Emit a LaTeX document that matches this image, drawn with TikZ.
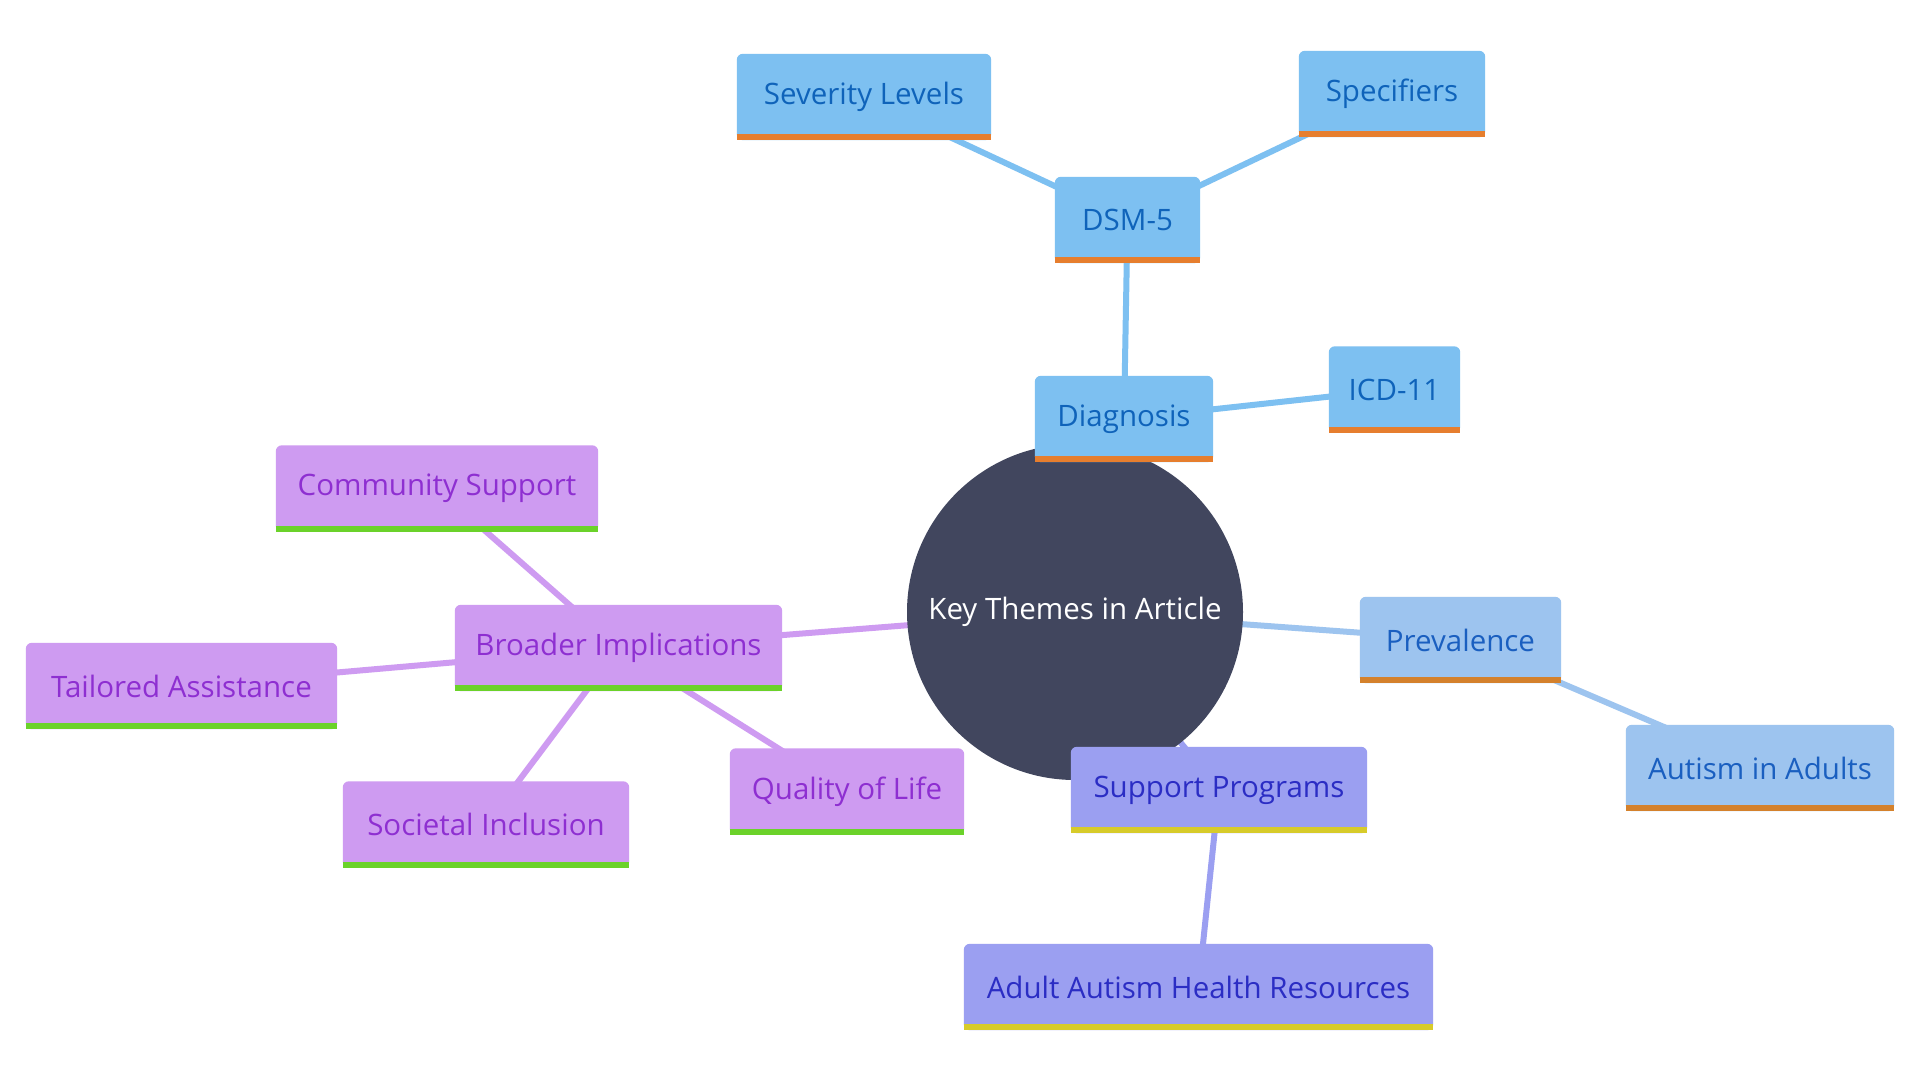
\documentclass[tikz,border=0pt]{standalone}
\usepackage{fontspec}
\setmainfont{Open Sans}
\pgfdeclarelayer{bg}
\pgfdeclarelayer{edges}
\pgfsetlayers{bg,edges,main}
\definecolor{bfill}{HTML}{7DC0F1}
\definecolor{btext}{HTML}{0F63BA}
\definecolor{bbar}{HTML}{E67E2E}
\definecolor{pfill}{HTML}{9DC4EF}
\definecolor{ptext}{HTML}{1A5FC0}
\definecolor{pbar}{HTML}{D4812C}
\definecolor{sfill}{HTML}{9B9FF1}
\definecolor{stext}{HTML}{2B2DC4}
\definecolor{sbar}{HTML}{D7CB2A}
\definecolor{vfill}{HTML}{CE9BF1}
\definecolor{vtext}{HTML}{8E2FD1}
\definecolor{vbar}{HTML}{6BD22A}
\definecolor{hub}{HTML}{41465E}
\tikzset{
  box/.style n args={3}{rectangle, text=#2,
    minimum height=86pt, inner sep=0pt,
    font=\fontsize{29.5}{34}\selectfont,
    append after command={\pgfextra{
      \fill[#1, rounded corners=6pt] (\tikzlastnode.south west) rectangle (\tikzlastnode.north east);
      \fill[#1, sharp corners] ([yshift=12pt]\tikzlastnode.south west) rectangle (\tikzlastnode.south east);
      \fill[#3, sharp corners] ([yshift=6pt]\tikzlastnode.south west) rectangle (\tikzlastnode.south east);}}},
  bluebox/.style={box={bfill}{btext}{bbar}},
  prevbox/.style={box={pfill}{ptext}{pbar}},
  suppbox/.style={box={sfill}{stext}{sbar}},
  purpbox/.style={box={vfill}{vtext}{vbar}},
  edge/.style={line width=6pt, draw=#1},
}
\begin{document}
\begin{tikzpicture}[x=1pt,y=-1pt]
\begin{pgfonlayer}{bg}
\fill[white] (0,0) rectangle (1920,1080);
\end{pgfonlayer}
\useasboundingbox (0,0) rectangle (1920,1080);
\node[circle, fill=hub, text=white, minimum size=336pt, inner sep=0pt,
  font=\fontsize{29.5}{34}\selectfont] (hubn) at (1075,612) {Key Themes in Article};
\node[bluebox, minimum width=178pt] (diag) at (1124,419) {Diagnosis};
\node[bluebox, minimum width=145pt] (dsm) at (1127.5,220) {DSM-5};
\node[bluebox, minimum width=254pt] (sev) at (864,97) {Severity Levels};
\node[bluebox, minimum width=186pt] (spec) at (1392,94) {Specifiers};
\node[bluebox, minimum width=131pt] (icd) at (1394.5,389.5) {ICD-11};
\node[prevbox, minimum width=201pt] (prev) at (1460.5,640) {Prevalence};
\node[prevbox, minimum width=268pt] (adults) at (1760,768) {Autism in Adults};
\node[suppbox, minimum width=296pt] (supp) at (1219,790) {Support Programs};
\node[suppbox, minimum width=469pt] (aahr) at (1198.5,987) {Adult Autism Health Resources};
\node[purpbox, minimum width=327pt] (broad) at (618.5,648) {Broader Implications};
\node[purpbox, minimum width=322pt] (comm) at (437,488.5) {Community Support};
\node[purpbox, minimum width=311pt] (tail) at (181.5,686) {Tailored Assistance};
\node[purpbox, minimum width=286pt] (soc) at (486,824.5) {Societal Inclusion};
\node[purpbox, minimum width=234pt] (qol) at (847,791.5) {Quality of Life};
\begin{pgfonlayer}{edges}
\draw[edge=bfill] (hubn.center) -- (diag.center);
\draw[edge=bfill] (diag.center) -- (dsm.center);
\draw[edge=bfill] (dsm.center) -- (sev.center);
\draw[edge=bfill] (dsm.center) -- (spec.center);
\draw[edge=bfill] (diag.center) -- (icd.center);
\draw[edge=pfill] (hubn.center) -- (prev.center);
\draw[edge=pfill] (prev.center) -- (adults.center);
\draw[edge=sfill] (hubn.center) -- (supp.center);
\draw[edge=sfill] (supp.center) -- (aahr.center);
\draw[edge=vfill] (hubn.center) -- (broad.center);
\draw[edge=vfill] (broad.center) -- (comm.center);
\draw[edge=vfill] (broad.center) -- (tail.center);
\draw[edge=vfill] (broad.center) -- (soc.center);
\draw[edge=vfill] (broad.center) -- (qol.center);
\end{pgfonlayer}
\end{tikzpicture}
\end{document}
